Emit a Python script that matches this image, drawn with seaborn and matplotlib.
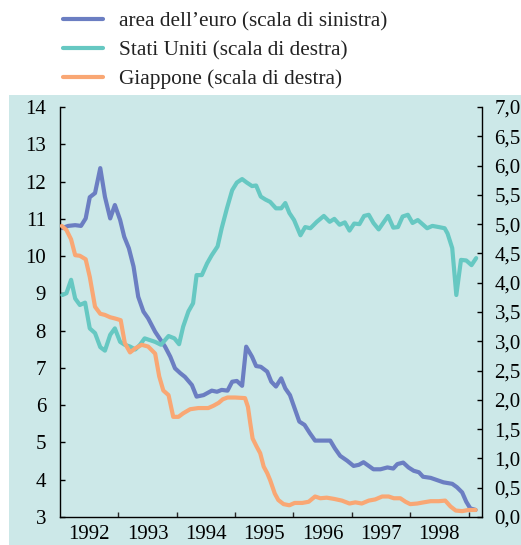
import matplotlib
matplotlib.use("Agg")
import matplotlib.pyplot as plt
from matplotlib.patches import Rectangle
from matplotlib.ticker import FuncFormatter, FixedLocator
import seaborn as sns
import pandas as pd

# ---- data ----
euro_t = [1992.04, 1992.14, 1992.26, 1992.36, 1992.44, 1992.51, 1992.60, 1992.69, 1992.77, 1992.86,
          1992.94, 1993.03, 1993.10, 1993.18, 1993.26, 1993.34, 1993.43, 1993.51, 1993.63, 1993.80,
          1993.89, 1993.97, 1994.06, 1994.14, 1994.26, 1994.34, 1994.46, 1994.60, 1994.69, 1994.77,
          1994.87, 1994.95, 1995.03, 1995.12, 1995.19, 1995.29, 1995.36, 1995.44, 1995.55, 1995.62,
          1995.70, 1995.79, 1995.86, 1995.94, 1996.03, 1996.10, 1996.19, 1996.28, 1996.37, 1996.49,
          1996.63, 1996.71, 1996.80, 1996.92, 1997.03, 1997.12, 1997.20, 1997.29, 1997.37, 1997.49,
          1997.61, 1997.71, 1997.78, 1997.88, 1997.97, 1998.06, 1998.15, 1998.22, 1998.35, 1998.46,
          1998.57, 1998.72, 1998.80, 1998.89, 1998.96, 1999.03, 1999.12]
euro_v = [10.75, 10.81, 10.83, 10.81, 11.01, 11.58, 11.69, 12.36, 11.59, 11.01,
          11.37, 10.97, 10.52, 10.21, 9.72, 8.91, 8.51, 8.33, 7.97, 7.57,
          7.30, 6.99, 6.86, 6.76, 6.54, 6.23, 6.27, 6.39, 6.36, 6.41,
          6.39, 6.63, 6.65, 6.52, 7.57, 7.30, 7.05, 7.03, 6.90, 6.63,
          6.50, 6.72, 6.45, 6.27, 5.87, 5.56, 5.47, 5.25, 5.05, 5.05,
          5.05, 4.84, 4.64, 4.51, 4.37, 4.40, 4.47, 4.37, 4.28, 4.28,
          4.33, 4.30, 4.42, 4.46, 4.33, 4.24, 4.20, 4.08, 4.05, 3.99,
          3.93, 3.89, 3.80, 3.66, 3.41, 3.23, 3.19]

usa_t = [1992.04, 1992.11, 1992.19, 1992.26, 1992.34, 1992.43, 1992.51, 1992.60, 1992.69, 1992.77,
         1992.86, 1992.94, 1993.03, 1993.11, 1993.20, 1993.29, 1993.37, 1993.45, 1993.54, 1993.63,
         1993.73, 1993.86, 1993.96, 1994.04, 1994.11, 1994.20, 1994.28, 1994.34, 1994.43, 1994.52,
         1994.60, 1994.70, 1994.77, 1994.86, 1994.95, 1995.03, 1995.12, 1995.20, 1995.29, 1995.36,
         1995.44, 1995.52, 1995.60, 1995.70, 1995.79, 1995.86, 1995.93, 1996.01, 1996.12, 1996.20,
         1996.29, 1996.40, 1996.52, 1996.62, 1996.70, 1996.79, 1996.88, 1996.96, 1997.04, 1997.13,
         1997.21, 1997.29, 1997.37, 1997.46, 1997.55, 1997.62, 1997.71, 1997.79, 1997.87, 1997.96,
         1998.04, 1998.13, 1998.21, 1998.29, 1998.38, 1998.49, 1998.59, 1998.64, 1998.72, 1998.79,
         1998.87, 1998.96, 1999.05, 1999.13]
usa_v = [3.79, 3.82, 4.05, 3.73, 3.62, 3.66, 3.22, 3.14, 2.90, 2.84,
         3.11, 3.22, 2.99, 2.94, 2.91, 2.86, 2.94, 3.05, 3.02, 2.99,
         2.94, 3.09, 3.05, 2.95, 3.25, 3.51, 3.65, 4.13, 4.13, 4.33,
         4.47, 4.62, 4.93, 5.27, 5.58, 5.71, 5.77, 5.71, 5.65, 5.66,
         5.47, 5.42, 5.38, 5.27, 5.27, 5.36, 5.19, 5.07, 4.81, 4.95,
         4.93, 5.04, 5.14, 5.04, 5.09, 4.99, 5.03, 4.89, 5.01, 5.00,
         5.14, 5.16, 5.02, 4.91, 5.04, 5.14, 4.94, 4.95, 5.13, 5.16,
         5.02, 5.07, 5.00, 4.93, 4.97, 4.95, 4.93, 4.84, 4.59, 3.79,
         4.39, 4.38, 4.30, 4.42]

jpn_t = [1992.03, 1992.11, 1992.19, 1992.26, 1992.34, 1992.44, 1992.51, 1992.60, 1992.69, 1992.77,
         1992.86, 1992.94, 1993.04, 1993.11, 1993.20, 1993.29, 1993.40, 1993.51, 1993.63, 1993.70,
         1993.77, 1993.86, 1993.94, 1994.03, 1994.11, 1994.23, 1994.37, 1994.54, 1994.63, 1994.72,
         1994.79, 1994.87, 1995.00, 1995.17, 1995.22, 1995.26, 1995.30, 1995.37, 1995.43, 1995.49,
         1995.55, 1995.60, 1995.68, 1995.74, 1995.83, 1995.93, 1996.02, 1996.15, 1996.26, 1996.37,
         1996.46, 1996.57, 1996.69, 1996.83, 1996.96, 1997.06, 1997.17, 1997.29, 1997.40, 1997.52,
         1997.63, 1997.72, 1997.83, 1997.92, 1998.00, 1998.12, 1998.23, 1998.35, 1998.49, 1998.60,
         1998.69, 1998.78, 1998.89, 1999.00, 1999.12]
jpn_v = [4.97, 4.90, 4.74, 4.47, 4.46, 4.40, 4.10, 3.59, 3.47, 3.45,
         3.41, 3.39, 3.36, 2.97, 2.81, 2.88, 2.94, 2.91, 2.79, 2.40,
         2.16, 2.08, 1.71, 1.71, 1.77, 1.84, 1.86, 1.86, 1.90, 1.95,
         2.01, 2.04, 2.04, 2.03, 1.88, 1.60, 1.34, 1.20, 1.09, 0.86,
         0.75, 0.63, 0.40, 0.29, 0.22, 0.20, 0.24, 0.24, 0.26, 0.35,
         0.32, 0.33, 0.31, 0.28, 0.23, 0.25, 0.23, 0.28, 0.30, 0.35,
         0.35, 0.32, 0.32, 0.26, 0.22, 0.23, 0.25, 0.27, 0.27, 0.28,
         0.18, 0.11, 0.10, 0.12, 0.12]

labels = ["area dell\u2019euro (scala di sinistra)",
          "Stati Uniti (scala di destra)",
          "Giappone (scala di destra)"]
years = [1992, 1993, 1994, 1995, 1996, 1997, 1998]
left_ticks = [3, 4, 5, 6, 7, 8, 9, 10, 11, 12, 13, 14]
right_ticks = [0.0, 0.5, 1.0, 1.5, 2.0, 2.5, 3.0, 3.5, 4.0, 4.5, 5.0, 5.5, 6.0, 6.5, 7.0]

# ---- styling ----
sns.set_style("ticks")
plt.rcParams["font.family"] = ["Liberation Serif", "DejaVu Serif"]
c_euro, c_usa, c_jpn = "#6b7ec2", "#66c8c2", "#f9a774"
bg = "#cce8e8"
lw = 3.0
fs = 15

W, H = 521, 545
fig = plt.figure(figsize=(W / 100, H / 100), dpi=100)
fig.patch.set_facecolor("white")
fig.patches.append(Rectangle((9 / W, 0), 1 - 9 / W, 450 / H, transform=fig.transFigure,
                             facecolor=bg, edgecolor="none", zorder=-10))

ax = fig.add_axes([60 / W, 28 / H, (482 - 60) / W, (517 - 107) / H])
ax.patch.set_alpha(0)
ax2 = ax.twinx()
ax2.patch.set_alpha(0)

df_e = pd.DataFrame({"t": euro_t, "v": euro_v})
df_u = pd.DataFrame({"t": usa_t, "v": usa_v})
df_j = pd.DataFrame({"t": jpn_t, "v": jpn_v})

sns.lineplot(data=df_e, x="t", y="v", ax=ax, color=c_euro, lw=lw, sort=False, label=labels[0], legend=False)
sns.lineplot(data=df_u, x="t", y="v", ax=ax2, color=c_usa, lw=lw, sort=False, label=labels[1], legend=False)
sns.lineplot(data=df_j, x="t", y="v", ax=ax2, color=c_jpn, lw=lw, sort=False, label=labels[2], legend=False)

ax.set_xlim(1992, 1999.23)
ax.set_ylim(3, 14)
ax2.set_ylim(0, 7)
for a in (ax, ax2):
    a.set_xlabel("")
    a.set_ylabel("")
    a.spines["top"].set_visible(False)
    for s in ("left", "right", "bottom"):
        a.spines[s].set_color("black")
        a.spines[s].set_linewidth(1.0)

ax.spines["right"].set_visible(False)
ax2.spines["left"].set_visible(False)
ax2.spines["bottom"].set_visible(False)

ax.set_yticks(left_ticks)
ax.set_yticklabels([str(v) for v in left_ticks])
ax2.set_yticks(right_ticks)
ax2.yaxis.set_major_formatter(FuncFormatter(lambda v, p: f"{v:.1f}".replace(".", ",")))

ax.xaxis.set_major_locator(FixedLocator([y + 1 for y in years[:-1]] + [1999]))
ax.xaxis.set_major_formatter(FuncFormatter(lambda v, p: ""))
ax.xaxis.set_minor_locator(FixedLocator([y + 0.5 for y in years]))
ax.set_xticklabels([str(y) for y in years], minor=True)

ax.tick_params(axis="y", direction="in", length=3.5, width=1, pad=10, labelsize=fs, colors="black")
ax2.tick_params(axis="y", direction="in", length=3.5, width=1, pad=9, labelsize=fs, colors="black")
ax.tick_params(axis="x", which="major", direction="in", length=3.5, width=1)
ax.tick_params(axis="x", which="minor", length=0, pad=6, labelsize=fs, colors="black")

h1, l1 = ax.get_legend_handles_labels()
h2, l2 = ax2.get_legend_handles_labels()
leg = fig.legend(h1 + h2, l1 + l2, loc="upper left", bbox_to_anchor=(54 / W, 1 - 3 / H),
                 frameon=False, fontsize=15.3, handlelength=1.9, handletextpad=0.75,
                 labelspacing=0.42, borderaxespad=0)
for t in leg.get_texts():
    t.set_color("#222222")

fig.savefig("out.png", dpi=100)
